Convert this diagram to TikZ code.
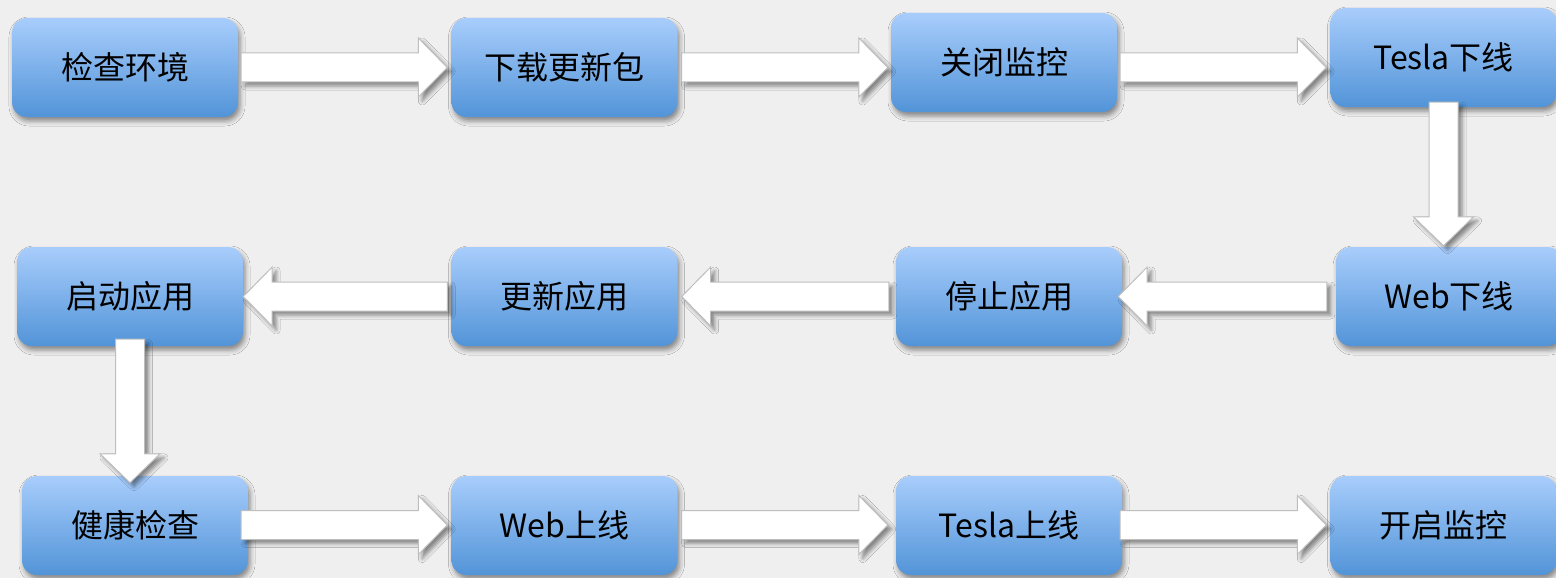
\documentclass[tikz,border=0pt]{standalone}
\usepackage{fontspec}
\setmainfont{Noto Sans CJK SC}
\usetikzlibrary{calc,shadows.blur}
\definecolor{bg}{RGB}{239,239,239}
\definecolor{boxtop}{RGB}{168,205,252}
\definecolor{boxbot}{RGB}{82,148,216}
\definecolor{arrline}{RGB}{190,190,190}
\tikzset{
  stepbox/.style={rounded corners=15pt, minimum width=226pt, minimum height=99pt,
    inner sep=0pt, top color=boxtop, bottom color=boxbot, draw=none,
    font=\fontsize{32pt}{38pt}\selectfont, text=black,
    blur shadow={shadow xshift=2pt, shadow yshift=-4pt, shadow blur radius=5pt, shadow opacity=45}},
  barrow/.style={fill=white, draw=arrline, line width=1pt, line join=miter,
    blur shadow={shadow xshift=4pt, shadow yshift=-4pt, shadow blur radius=4pt, shadow opacity=45}}
}
% horizontal block arrow: start point, tip point, row coordinate
\newcommand\harrow[3]{%
  \draw[barrow] let \p1=#1, \p2=#2, \p3=#3, \n1={sign(\x2-\x1)} in
    (\x1,\y3+14.5pt) -- (\x2-\n1*29pt,\y3+14.5pt) -- (\x2-\n1*29pt,\y3+29.5pt) -- (\x2,\y3)
    -- (\x2-\n1*29pt,\y3-29.5pt) -- (\x2-\n1*29pt,\y3-14.5pt) -- (\x1,\y3-14.5pt) -- cycle;}
% vertical (downward) block arrow: start point, tip point
\newcommand\varrow[2]{%
  \draw[barrow] let \p1=#1, \p2=#2 in
    (\x1-14.5pt,\y1) -- (\x1-14.5pt,\y2+29pt) -- (\x1-30pt,\y2+29pt) -- (\x1,\y2)
    -- (\x1+30pt,\y2+29pt) -- (\x1+14.5pt,\y2+29pt) -- (\x1+14.5pt,\y1) -- cycle;}
\begin{document}
\begin{tikzpicture}[x=1pt,y=-1pt]
\fill[bg] (0,0) rectangle (1556,578);
\useasboundingbox (0,0) rectangle (1556,578);
\begin{scope}
\clip (0,0) rectangle (1556,578);
% row 1
\node[stepbox] (jc) at (125,67.5) {检查环境};
\node[stepbox] (xz) at (564.5,67.5) {下载更新包};
\node[stepbox] (gb) at (1004,62.5) {关闭监控};
\node[stepbox] (tx) at (1443.5,57.5) {Tesla下线};
% row 2
\node[stepbox] (qd) at (130,296.5) {启动应用};
\node[stepbox] (gx) at (564.5,296.5) {更新应用};
\node[stepbox] (tz) at (1009,296.5) {停止应用};
\node[stepbox] (wx) at (1449,296.5) {Web下线};
% row 3
\node[stepbox] (jk) at (135,525.5) {健康检查};
\node[stepbox] (ws) at (564.5,525.5) {Web上线};
\node[stepbox] (ts) at (1009,525.5) {Tesla上线};
\node[stepbox] (kq) at (1443.5,525.5) {开启监控};
\end{scope}
\coordinate (r1) at (0,67.5);
\coordinate (r2) at (0,296.5);
\coordinate (r3) at (0,525);
% row 1 arrows
\harrow{($(jc.east)+(3,0)$)}{($(xz.west)+(-4,0)$)}{(r1)}
\harrow{($(xz.east)+(4,0)$)}{($(gb.west)+(-3,0)$)}{(r1)}
\harrow{($(gb.east)+(3,0)$)}{($(tx.west)+(-4,0)$)}{(r1)}
% down arrow right
\varrow{($(tx.south)+(0,-5)$)}{($(wx.north)+(0,-1)$)}
% row 2 arrows (leftward)
\harrow{($(wx.west)+(-9,0)$)}{($(tz.east)+(-4,0)$)}{(r2)}
\harrow{($(tz.west)+(-7,0)$)}{($(gx.east)+(4,0)$)}{(r2)}
\harrow{($(gx.west)+(-4,0)$)}{($(qd.east)+(0,0)$)}{(r2)}
% down arrow left
\varrow{($(qd.south)+(0,-7)$)}{($(jk.north)+(-5,7)$)}
% row 3 arrows
\harrow{($(jk.east)+(-7,0)$)}{($(ws.west)+(-4,0)$)}{(r3)}
\harrow{($(ws.east)+(4,0)$)}{($(ts.west)+(-8,0)$)}{(r3)}
\harrow{($(ts.east)+(-2,0)$)}{($(kq.west)+(-4,0)$)}{(r3)}
\end{tikzpicture}
\end{document}
